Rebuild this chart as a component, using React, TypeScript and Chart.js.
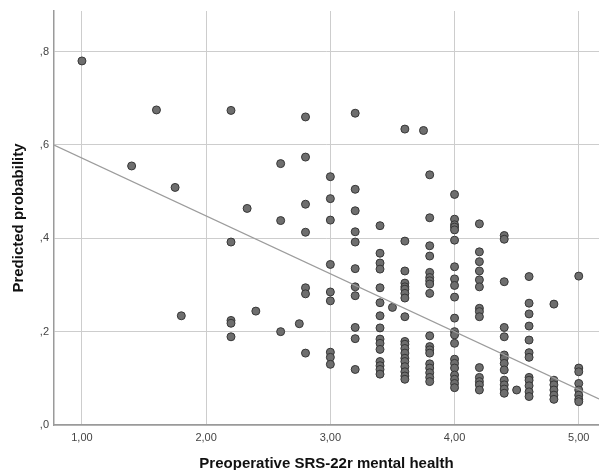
import React, { useEffect, useRef } from "react";
import { Chart, registerables } from "chart.js";

Chart.register(...registerables);

// Preoperative SRS-22r mental health score (x) for each column of points
const scoreValues = [1.0, 1.4, 1.6, 1.75, 1.8, 2.2, 2.33, 2.4, 2.6, 2.75, 2.8, 3.0, 3.2, 3.4, 3.5, 3.6, 3.75, 3.8, 4.0, 4.2, 4.4, 4.5, 4.6, 4.8, 5.0];

// Predicted probability values (y) observed in each column
const probabilityColumns = [
  [0.78],
  [0.555],
  [0.675],
  [0.509],
  [0.234],
  [0.674, 0.392, 0.224, 0.218, 0.189],
  [0.464],
  [0.244],
  [0.56, 0.438, 0.2],
  [0.217],
  [0.66, 0.574, 0.473, 0.413, 0.294, 0.281, 0.154],
  [0.532, 0.485, 0.439, 0.344, 0.285, 0.266, 0.156, 0.145, 0.13],
  [0.668, 0.505, 0.459, 0.414, 0.392, 0.335, 0.296, 0.277, 0.209, 0.185, 0.119],
  [0.427, 0.368, 0.347, 0.334, 0.294, 0.262, 0.234, 0.208, 0.184, 0.175, 0.162, 0.136, 0.127, 0.119, 0.109],
  [0.252],
  [0.634, 0.394, 0.33, 0.304, 0.296, 0.291, 0.282, 0.272, 0.232, 0.179, 0.173, 0.164, 0.154, 0.143, 0.136, 0.125, 0.114, 0.105, 0.098],
  [0.631],
  [0.536, 0.444, 0.384, 0.362, 0.327, 0.316, 0.309, 0.302, 0.282, 0.191, 0.168, 0.161, 0.154, 0.131, 0.122, 0.112, 0.102, 0.093],
  [0.494, 0.441, 0.429, 0.424, 0.418, 0.396, 0.339, 0.313, 0.299, 0.274, 0.229, 0.2, 0.193, 0.175, 0.141, 0.132, 0.122, 0.107, 0.098, 0.089, 0.08],
  [0.431, 0.371, 0.35, 0.33, 0.311, 0.296, 0.25, 0.243, 0.232, 0.123, 0.102, 0.093, 0.086, 0.075],
  [0.406, 0.398, 0.307, 0.209, 0.189, 0.15, 0.143, 0.132, 0.118, 0.096, 0.086, 0.077, 0.068],
  [0.075],
  [0.318, 0.261, 0.238, 0.212, 0.182, 0.155, 0.145, 0.102, 0.096, 0.084, 0.071, 0.061],
  [0.259, 0.096, 0.086, 0.075, 0.064, 0.055],
  [0.319, 0.122, 0.114, 0.089, 0.075, 0.064, 0.055, 0.05],
];

const xTickValues = [1, 2, 3, 4, 5];
const yTickValues = [0, 0.2, 0.4, 0.6, 0.8];

// Linear fit line
const fitIntercept = 0.696;
const fitSlope = -0.124;

const xMin = 0.775;
const xMax = 5.163;
const yMin = 0;
const yMax = 0.887;

const FONT = "'Liberation Sans', Arial, Helvetica, sans-serif";

export default function App() {
  const ref = useRef<HTMLCanvasElement>(null);

  useEffect(() => {
    const points = scoreValues.flatMap((x, i) => probabilityColumns[i].map((y) => ({ x, y })));
    const line = [xMin, xMax].map((x) => ({ x, y: fitIntercept + fitSlope * x }));

    const chart = new Chart(ref.current!, {
      type: "scatter",
      data: {
        datasets: [
          {
            type: "line",
            data: line,
            borderColor: "#9c9c9c",
            borderWidth: 1.3,
            pointRadius: 0,
            fill: false,
          } as any,
          {
            data: points,
            backgroundColor: "#6e6e6e",
            borderColor: "#363636",
            borderWidth: 1,
            pointRadius: 4,
          },
        ],
      },
      options: {
        responsive: false,
        animation: false,
        devicePixelRatio: 1,
        layout: { autoPadding: false, padding: { top: 11, right: 0, left: 0, bottom: 0 } },
        plugins: { legend: { display: false }, tooltip: { enabled: false } },
        scales: {
          x: {
            type: "linear",
            min: xMin,
            max: xMax,
            afterBuildTicks: (s: any) => {
              s.ticks = xTickValues.map((v) => ({ value: v }));
            },
            afterFit: (s: any) => {
              s.height = 45;
              s.paddingLeft = 0;
              s.paddingRight = 0;
            },
            ticks: {
              callback: (v: any) => Number(v).toFixed(2).replace(".", ","),
              color: "#444",
              font: { family: FONT, size: 11 },
              padding: 6,
              maxRotation: 0,
              autoSkip: false,
            },
            grid: { color: "#cdcdcd", lineWidth: 1, drawTicks: false },
            border: { color: "#9a9a9a", width: 1.5 },
            title: {
              display: true,
              text: "Preoperative SRS-22r mental health",
              color: "#111",
              font: { family: FONT, size: 15, weight: "bold" },
              padding: { top: 0, bottom: -3 },
            },
          },
          y: {
            type: "linear",
            min: yMin,
            max: yMax,
            afterBuildTicks: (s: any) => {
              s.ticks = yTickValues.map((v) => ({ value: v }));
            },
            afterFit: (s: any) => {
              s.width = 54;
              s.paddingTop = 0;
              s.paddingBottom = 0;
            },
            ticks: {
              callback: (v: any) => Number(v).toFixed(1).replace("0.", ","),
              color: "#444",
              font: { family: FONT, size: 11 },
              padding: 5,
              autoSkip: false,
            },
            grid: { color: "#cdcdcd", lineWidth: 1, drawTicks: false },
            border: { color: "#9a9a9a", width: 1.5 },
            title: {
              display: true,
              text: "Predicted probability",
              color: "#111",
              font: { family: FONT, size: 15, weight: "bold" },
              padding: { top: 9.5, bottom: 0 },
            },
          },
        },
      },
    });
    return () => chart.destroy();
  }, []);

  return (
    <div style={{ position: "fixed", left: 0, top: 0, width: 599, height: 470, background: "#fff" }}>
      <canvas ref={ref} width={599} height={470} />
    </div>
  );
}
